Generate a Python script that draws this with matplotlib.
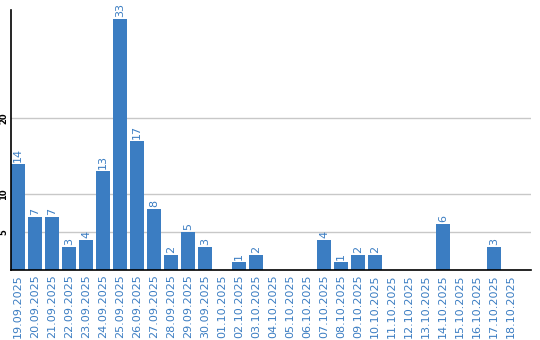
import matplotlib
matplotlib.use("Agg")
import matplotlib.pyplot as plt
import numpy as np

# Daily counts
dates = ['19.09.2025', '20.09.2025', '21.09.2025', '22.09.2025', '23.09.2025',
         '24.09.2025', '25.09.2025', '26.09.2025', '27.09.2025', '28.09.2025',
         '29.09.2025', '30.09.2025', '01.10.2025', '02.10.2025', '03.10.2025',
         '04.10.2025', '05.10.2025', '06.10.2025', '07.10.2025', '08.10.2025',
         '09.10.2025', '10.10.2025', '11.10.2025', '12.10.2025', '13.10.2025',
         '14.10.2025', '15.10.2025', '16.10.2025', '17.10.2025', '18.10.2025']
counts = [14, 7, 7, 3, 4, 13, 33, 17, 8, 2, 5, 3, 0, 1, 2,
          0, 0, 0, 4, 1, 2, 2, 0, 0, 0, 6, 0, 0, 3, 0]
y_ticks = [5, 10, 20]

bar_color = '#3b7dc2'

fig = plt.figure(figsize=(5.4, 3.4), dpi=100)
ax = fig.add_axes([11/540, 70/340, 520/540, 260/340])

x = np.arange(len(dates))
ax.bar(x, counts, width=14/17, color=bar_color, zorder=2)

for xi, v in zip(x, counts):
    if v > 0:
        ax.text(xi, v + 0.25, str(v), rotation=90, ha='center', va='bottom',
                fontsize=8, color=bar_color)

ax.set_xlim(-7/17, 30.18)
ax.set_ylim(0, 34.2)

ax.set_yticks(y_ticks)
ax.set_yticklabels([str(t) for t in y_ticks], rotation=90, va='center',
                   fontsize=6, fontweight='bold')
ax.tick_params(axis='y', length=0, pad=2)
ax.yaxis.grid(True, color='#c8c8c8', linewidth=1, zorder=0)

ax.set_xticks(x)
ax.set_xticklabels(dates, rotation=90, fontsize=8, color=bar_color)
ax.tick_params(axis='x', length=0, pad=3)

for side in ['top', 'right']:
    ax.spines[side].set_visible(False)
ax.spines['left'].set_linewidth(1.2)
ax.spines['bottom'].set_linewidth(1.2)

fig.savefig('out.png', dpi=100)
